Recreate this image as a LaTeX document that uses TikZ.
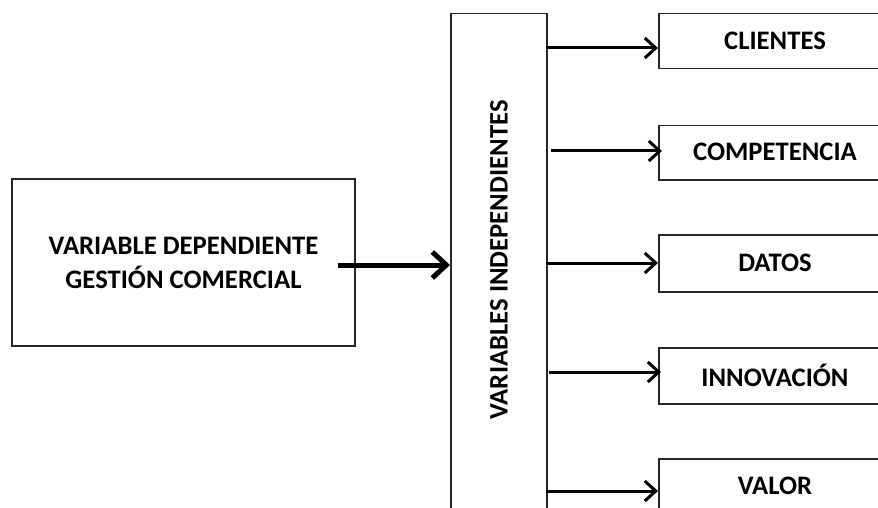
\documentclass[tikz,border=0pt]{standalone}
\usepackage{fontspec}
\setmainfont{Carlito}
\usetikzlibrary{arrows.meta}
\begin{document}
\begin{tikzpicture}[x=1pt,y=-1pt,
  box/.style={draw=black!85,line width=1.5pt,inner sep=0pt,font=\bfseries\fontsize{26.7}{34}\selectfont,align=center},
  arr/.style={line width=3pt,-{Straight Barb[length=11pt,width=20pt,line width=3pt]}},
  bigarr/.style={line width=5pt,-{Straight Barb[length=14pt,width=26pt,line width=5pt]}},
  lbl/.style={font=\bfseries\fontsize{26.7}{34}\selectfont,inner sep=0pt}]
\useasboundingbox (0,0) rectangle (878,508);
\clip (0,0) rectangle (878,508);
\fill[white] (0,0) rectangle (878,508);
\node[box,minimum width=343pt,minimum height=167pt] (dep) at (183.5,262.5) {VARIABLE DEPENDIENTE\\GESTIÓN COMERCIAL};
\node[box,minimum width=96pt,minimum height=530pt,anchor=north west] (indep) at (450,13) {};
\node[lbl,rotate=90] (indeplbl) at (499,260) {VARIABLES INDEPENDIENTES};
\node[box,minimum width=234pt,minimum height=55pt,anchor=north west] (cli) at (658,13) {};
\node[lbl] (clit) at (775,41) {CLIENTES};
\node[box,minimum width=234pt,minimum height=54pt,anchor=north west] (comp) at (658,125) {};
\node[lbl] (compt) at (775,152) {COMPETENCIA};
\node[box,minimum width=234pt,minimum height=57pt,anchor=north west] (dat) at (658,234) {};
\node[lbl] (datt) at (775,262.5) {DATOS};
\node[box,minimum width=234pt,minimum height=56pt,anchor=north west] (inn) at (658,347) {};
\node[lbl] (innt) at (775,375) {INNOVACIÓN};
\node[box,minimum width=234pt,minimum height=80pt,anchor=north west] (val) at (658,458) {};
\node[lbl] (valt) at (775,486) {VALOR};
\coordinate (a0) at (338,265);
\draw[bigarr] (a0) -- (a0 -| indep.west);
\coordinate (c1) at (546,48);
\coordinate (c2) at (551,151);
\coordinate (c3) at (546,263);
\coordinate (c4) at (549,372);
\coordinate (c5) at (546,491);
\draw[arr] (c1) -- (c1 -| cli.west);
\draw[arr] (c2) -- ([xshift=4pt]c2 -| comp.west);
\draw[arr] (c3) -- (c3 -| dat.west);
\draw[arr] (c4) -- ([xshift=3pt]c4 -| inn.west);
\draw[arr] (c5) -- (c5 -| val.west);
\end{tikzpicture}
\end{document}
